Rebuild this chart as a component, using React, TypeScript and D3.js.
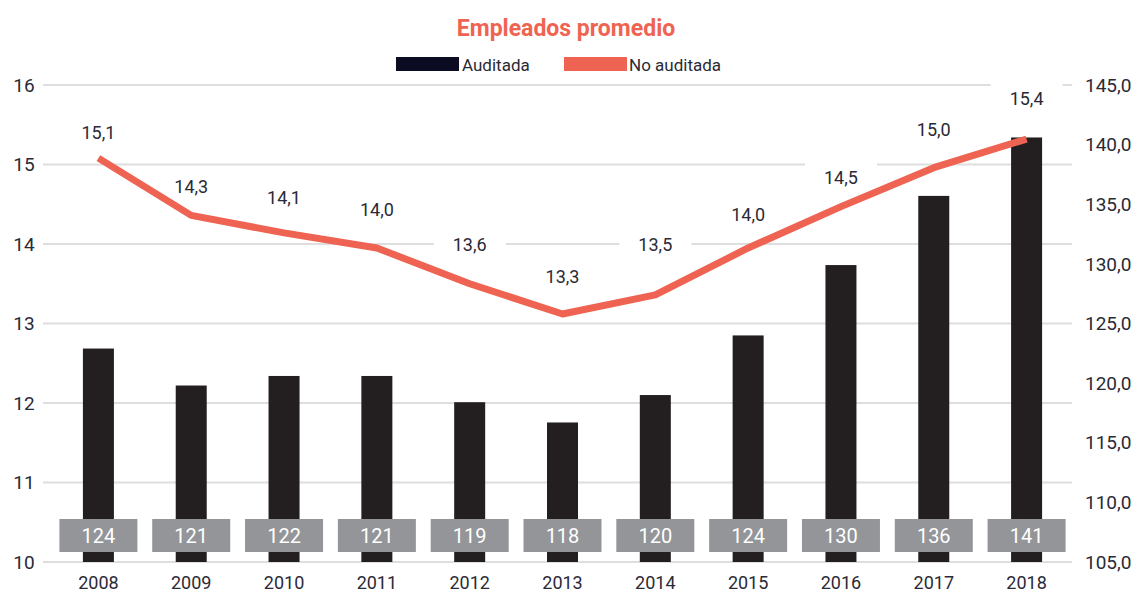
import React from "react";
import * as d3 from "d3";

const years = ["2008","2009","2010","2011","2012","2013","2014","2015","2016","2017","2018"];
// Bar heights (Auditada) read on the right axis
const auditada = [122.9, 119.8, 120.6, 120.6, 118.4, 116.7, 119.0, 124.0, 129.9, 135.7, 140.6];
const auditadaLabels = ["124","121","122","121","119","118","120","124","130","136","141"];
// Line (No auditada) read on the left axis
const noAuditada = [15.08, 14.36, 14.14, 13.95, 13.5, 13.12, 13.36, 13.95, 14.47, 14.96, 15.32];
const noAuditadaLabels = ["15,1","14,3","14,1","14,0","13,6","13,3","13,5","14,0","14,5","15,0","15,4"];
const labelOffsets = [-25, -29, -35, -38, -39, -37, -50, -33, -29, -38, -40];
const leftTicks = [10, 11, 12, 13, 14, 15, 16];
const rightTicks = [105, 110, 115, 120, 125, 130, 135, 140, 145];

const W = 1137, H = 596;
const FONT = "Roboto, 'Noto Sans', sans-serif";
const RED = "#ee6351";
const BAR = "#231f20";
const GREY = "#939598";
const GRID = "#dedede";
const TXT = "#2a2a36";

export default function App() {
  const x = d3.scaleBand<string>().domain(years).range([52, 1073]).paddingInner(0.666).paddingOuter(0.333);
  const yL = d3.scaleLinear().domain([10, 16]).range([562, 85]);
  const yR = d3.scaleLinear().domain([105, 145]).range([562, 85]);
  const cx = (y: string) => (x(y) as number) + x.bandwidth() / 2;
  const line = d3.line<number>().x((_, i) => cx(years[i])).y((d) => yL(d));

  return (
    <svg width={W} height={H} style={{ position: "absolute", left: 0, top: 0, background: "#fff" }} fontFamily={FONT}>
      <text x={566} y={36} textAnchor="middle" fill={RED} fontSize={23} fontWeight={700}>Empleados promedio</text>
      <rect x={396} y={57} width={63} height={14} fill="#0b0b22" />
      <text x={462} y={71} fontSize={17} fill={TXT}>Auditada</text>
      <rect x={564} y={57} width={63} height={14} fill={RED} />
      <text x={629} y={71} fontSize={17} fill={TXT}>No auditada</text>

      {leftTicks.map((t) => (
        <g key={"l" + t}>
          <line x1={43} x2={1072} y1={yL(t)} y2={yL(t)} stroke={GRID} strokeWidth={2} />
          <text x={24} y={yL(t)} dy="0.35em" textAnchor="middle" fontSize={19} fill={TXT}>{t}</text>
        </g>
      ))}
      {rightTicks.map((t) => (
        <text key={"r" + t} x={1085} y={yR(t)} dy="0.35em" fontSize={19} fill={TXT}>{t.toFixed(1).replace(".", ",")}</text>
      ))}

      {years.map((yv, i) => (
        <rect key={"b" + yv} x={x(yv)} y={yR(auditada[i])} width={x.bandwidth()} height={yR(105) - yR(auditada[i])} fill={BAR} />
      ))}
      {years.map((yv, i) => (
        <g key={"g" + yv}>
          <rect x={cx(yv) - 39} y={519} width={78} height={33} fill={GREY} />
          <text x={cx(yv)} y={536} dy="0.35em" textAnchor="middle" fontSize={20} fill="#fff">{auditadaLabels[i]}</text>
        </g>
      ))}

      {years.map((yv, i) => (
        <rect key={"w" + yv} x={cx(yv) - 36} y={yL(noAuditada[i]) + labelOffsets[i] - 17} width={72} height={34} fill="#fff" />
      ))}
      {years.map((yv, i) => (
        <text key={"t" + yv} x={cx(yv)} y={yL(noAuditada[i]) + labelOffsets[i]} dy="0.35em" textAnchor="middle" fontSize={18} fill={TXT}>{noAuditadaLabels[i]}</text>
      ))}
      <path d={line(noAuditada) || ""} fill="none" stroke={RED} strokeWidth={7} strokeLinejoin="round" />

      {years.map((yv) => (
        <text key={"x" + yv} x={cx(yv)} y={583} dy="0.35em" textAnchor="middle" fontSize={18} fill={TXT}>{yv}</text>
      ))}
    </svg>
  );
}
